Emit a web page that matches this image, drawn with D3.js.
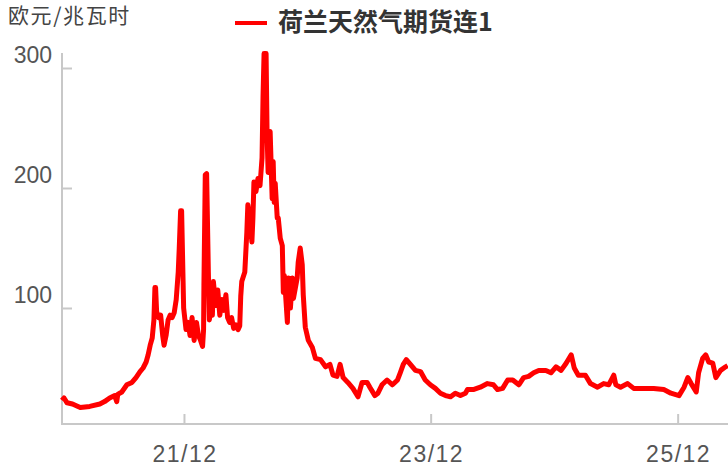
<!DOCTYPE html>
<html><head><meta charset="utf-8">
<script src="https://cdn.jsdelivr.net/npm/d3@7/dist/d3.min.js"></script>
<style>
html,body{margin:0;padding:0;background:#fff;}
svg{display:block;}
</style></head>
<body>
<svg id="chart" width="728" height="470"></svg>
<script>
const seriesName = "荷兰天然气期货连1";
const unitLabel = "欧元/兆瓦时";
const dates = [
"2021-01-04","2021-01-10","2021-01-19","2021-02-04","2021-02-27","2021-03-27","2021-04-26","2021-05-10","2021-05-25","2021-06-09",
"2021-06-15","2021-06-18","2021-06-30","2021-07-15","2021-07-30","2021-08-11","2021-08-23","2021-09-01","2021-09-10","2021-09-16",
"2021-09-22","2021-09-28","2021-10-03","2021-10-06","2021-10-08","2021-10-11","2021-10-17","2021-10-23","2021-10-29","2021-11-02",
"2021-11-08","2021-11-14","2021-11-20","2021-11-26","2021-12-02","2021-12-08","2021-12-14","2021-12-17","2021-12-21","2021-12-24",
"2021-12-30","2022-01-06","2022-01-12","2022-01-18","2022-01-24","2022-01-30","2022-02-06","2022-02-12","2022-02-18","2022-02-24",
"2022-02-27","2022-02-28","2022-03-02","2022-03-04","2022-03-08","2022-03-13","2022-03-16","2022-03-22","2022-03-25","2022-03-28",
"2022-04-04","2022-04-10","2022-04-16","2022-04-22","2022-04-28","2022-05-04","2022-05-09","2022-05-15","2022-05-21","2022-05-27",
"2022-06-03","2022-06-09","2022-06-14","2022-06-17","2022-06-20","2022-06-29","2022-07-05","2022-07-08","2022-07-14","2022-07-20",
"2022-07-23","2022-07-26","2022-08-01","2022-08-07","2022-08-13","2022-08-19","2022-08-22","2022-08-25","2022-08-31","2022-09-03",
"2022-09-06","2022-09-12","2022-09-18","2022-09-21","2022-09-24","2022-09-27","2022-10-03","2022-10-06","2022-10-12","2022-10-18",
"2022-10-21","2022-10-24","2022-11-02","2022-11-05","2022-11-11","2022-11-17","2022-11-20","2022-12-01","2022-12-04","2022-12-10",
"2022-12-16","2022-12-19","2022-12-25","2023-01-03","2023-01-15","2023-01-24","2023-02-08","2023-02-23","2023-03-08","2023-03-17",
"2023-03-29","2023-04-07","2023-04-16","2023-04-30","2023-05-15","2023-05-30","2023-06-11","2023-06-26","2023-07-04","2023-07-19",
"2023-07-28","2023-08-09","2023-08-24","2023-09-09","2023-09-24","2023-10-02","2023-10-11","2023-10-20","2023-11-01","2023-11-16",
"2023-12-01","2023-12-15","2023-12-30","2024-01-14","2024-01-29","2024-02-13","2024-02-28","2024-03-13","2024-03-28","2024-04-12",
"2024-04-18","2024-05-05","2024-05-26","2024-06-16","2024-07-04","2024-07-16","2024-07-31","2024-08-15","2024-08-30","2024-09-17",
"2024-10-01","2024-10-16","2024-10-31","2024-11-15","2024-12-06","2024-12-21","2025-01-05","2025-01-20","2025-02-04","2025-02-19",
"2025-02-28","2025-03-12","2025-04-02","2025-04-17","2025-05-08","2025-05-26","2025-06-10","2025-06-25","2025-07-01","2025-07-15",
"2025-08-05","2025-08-23","2025-09-22","2025-10-21","2025-11-20","2025-12-11","2026-01-04","2026-01-19","2026-01-30","2026-02-09",
"2026-02-24","2026-03-03","2026-03-15","2026-03-24","2026-04-02","2026-04-14","2026-04-23","2026-05-07","2026-05-22","2026-05-28"
];
const values = [
23,25,21,20,17,18,20,22,25,27,
22,28,30,36,38,42,47,50,55,61,
69,75,90,117,117,97,92,94,77,69,
77,90,94,92,96,107,130,150,181,181,
100,82,88,77,92,73,88,77,73,68,
82,119,165,211,212,132,90,102,94,122,
102,115,94,107,98,111,92,88,92,83,
86,82,85,110,122,130,163,186,175,155,
175,205,197,208,202,225,277,312,312,244,
213,247,191,222,188,204,175,175,158,152,
113,127,88,125,100,125,108,125,138,150,
136,111,84,73,67,58,57,51,53,44,
43,53,42,38,33,26,38,38,34,27,
29,36,40,36,40,46,53,57,53,48,
47,40,36,33,29,27,26,29,27,29,
32,32,34,37,36,32,33,40,40,36,
42,43,46,48,48,46,51,48,54,61,
50,44,44,37,34,37,36,44,36,34,
37,33,33,33,32,29,27,34,42,37,
30,46,58,61,55,54,42,48,51,52
];
const yTicks = [100, 200, 300];
const xTickDates = ["2021-12-31", "2023-12-31", "2025-12-31"];
const xTickLabels = ["21/12", "23/12", "25/12"];

const parse = d3.timeParse("%Y-%m-%d");
const data = dates.map((d, i) => ({date: parse(d), value: values[i]}));

const svg = d3.select("#chart");
const plotLeft = 62, plotRight = 728, plotTop = 53, plotBottom = 424;

const x = d3.scaleTime()
  .domain([parse("2021-01-04"), parse("2026-05-29")])
  .range([plotLeft, plotRight]);
const y = d3.scaleLinear()
  .domain([3.33, 312.5])
  .range([plotBottom, plotTop]);

const axisColor = "#c8c8c8";
const numFont = "'Liberation Sans', Arial, sans-serif";
const cjkFont = "'Noto Sans CJK SC', 'Noto Sans', sans-serif";

// Y axis
const yAxis = svg.append("g").attr("transform", `translate(${plotLeft},0)`)
  .call(d3.axisRight(y).tickValues(yTicks).tickSize(10).tickFormat(""));
yAxis.select(".domain").attr("stroke", axisColor).attr("stroke-width", 2)
  .attr("d", `M0,${plotTop}V${plotBottom}`);
yAxis.selectAll(".tick line").attr("stroke", axisColor).attr("stroke-width", 2);

svg.append("g").selectAll("text").data(yTicks).join("text")
  .attr("x", 52).attr("y", d => y(d) - 5)
  .attr("text-anchor", "end")
  .attr("font-family", numFont).attr("font-size", 23)
  .attr("fill", "#555")
  .text(d => d);

// X axis
const xAxis = svg.append("g").attr("transform", `translate(0,${plotBottom})`)
  .call(d3.axisTop(x).tickValues(xTickDates.map(parse)).tickSize(10).tickFormat(""));
xAxis.select(".domain").attr("stroke", axisColor).attr("stroke-width", 2)
  .attr("d", `M${plotLeft - 1},0H${plotRight}`);
xAxis.selectAll(".tick line").attr("stroke", axisColor).attr("stroke-width", 2);

svg.append("g").selectAll("text").data(xTickDates).join("text")
  .attr("x", d => x(parse(d)) + 1).attr("y", 462)
  .attr("text-anchor", "middle")
  .attr("font-family", numFont).attr("font-size", 23)
  .attr("letter-spacing", 1.5)
  .attr("fill", "#555")
  .text((d, i) => xTickLabels[i]);

// Line
const line = d3.line().x(d => x(d.date)).y(d => y(d.value));
svg.append("path").datum(data)
  .attr("d", line)
  .attr("fill", "none")
  .attr("stroke", "#ff0000")
  .attr("stroke-width", 5)
  .attr("stroke-linejoin", "round");

// Unit label
svg.append("text").attr("x", 8).attr("y", 23)
  .attr("font-family", cjkFont).attr("font-size", 21)
  .attr("letter-spacing", 1.6)
  .attr("fill", "#444")
  .text(unitLabel);

// Legend
svg.append("line").attr("x1", 235).attr("x2", 267).attr("y1", 23).attr("y2", 23)
  .attr("stroke", "#ff0000").attr("stroke-width", 4);
svg.append("text").attr("x", 278).attr("y", 31)
  .attr("font-family", cjkFont).attr("font-size", 25).attr("font-weight", "bold")
  .attr("fill", "#333")
  .text(seriesName);
</script>
</body></html>
